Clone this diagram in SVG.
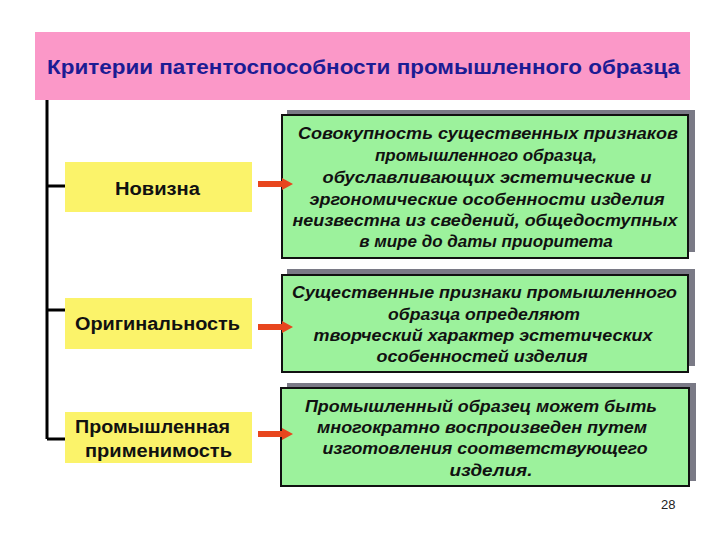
<svg xmlns="http://www.w3.org/2000/svg" width="720" height="540" viewBox="0 0 720 540">
<defs>
<style>
.title{font-family:"Liberation Sans",Arial,sans-serif;font-size:20px;font-weight:bold;fill:#1c1c94;}
.lbl{font-family:"Liberation Sans",Arial,sans-serif;font-size:18px;font-weight:bold;fill:#111;text-anchor:middle;}
.desc{font-family:"Liberation Sans",Arial,sans-serif;font-size:17px;font-weight:bold;font-style:italic;fill:#111;text-anchor:middle;}
.ybox{fill:#fbf36a;}
.gbox{fill:#9cf29c;stroke:#111;stroke-width:2;}
.shadow{fill:#7a7a86;}
.tree{stroke:#000;stroke-width:3;fill:none;}
.arrow{fill:#e8461e;}
.num{font-family:"Liberation Sans",Arial,sans-serif;font-size:13px;fill:#222;}
</style>
</defs>
<rect width="720" height="540" fill="#fff"/>
<g id="title">
<rect x="35" y="32" width="655" height="68" fill="#fb98c8"/>
<text class="title" x="47" y="74" textLength="633" lengthAdjust="spacingAndGlyphs">Критерии патентоспособности  промышленного  образца</text>
</g>
<g id="novizna">
<rect class="ybox" x="65" y="162" width="187" height="50"/>
<text class="lbl" x="157.5" y="195" textLength="85" lengthAdjust="spacingAndGlyphs">Новизна</text>
</g>
<g id="originalnost">
<rect class="ybox" x="65" y="298" width="187" height="51"/>
<text class="lbl" x="157.5" y="330" textLength="165" lengthAdjust="spacingAndGlyphs">Оригинальность</text>
</g>
<g id="primenimost">
<rect class="ybox" x="65" y="412" width="187" height="51"/>
<text class="lbl" x="152.5" y="433" textLength="155" lengthAdjust="spacingAndGlyphs">Промышленная</text>
<text class="lbl" x="158.5" y="457" textLength="147" lengthAdjust="spacingAndGlyphs">применимость</text>
</g>
<g id="desc1">
<rect class="shadow" x="287" y="110" width="408" height="142"/>
<rect class="gbox" x="282" y="115" width="406" height="143"/>
<text class="desc" x="488" y="139" textLength="380" lengthAdjust="spacingAndGlyphs">Совокупность существенных признаков</text>
<text class="desc" x="486" y="161">промышленного образца,</text>
<text class="desc" x="487" y="183" textLength="329" lengthAdjust="spacingAndGlyphs">обуславливающих эстетические и</text>
<text class="desc" x="487" y="205" textLength="355" lengthAdjust="spacingAndGlyphs">эргономические особенности изделия</text>
<text class="desc" x="485" y="226" textLength="385" lengthAdjust="spacingAndGlyphs">неизвестна из сведений, общедоступных</text>
<text class="desc" x="486" y="247">в мире до даты приоритета</text>
</g>
<g id="desc2">
<rect class="shadow" x="287" y="269" width="408" height="97"/>
<rect class="gbox" x="282" y="275" width="406" height="97"/>
<text class="desc" x="484.5" y="298" textLength="385" lengthAdjust="spacingAndGlyphs">Существенные признаки промышленного</text>
<text class="desc" x="484" y="320" textLength="192" lengthAdjust="spacingAndGlyphs">образца определяют</text>
<text class="desc" x="483" y="341" textLength="339" lengthAdjust="spacingAndGlyphs">творческий характер эстетических</text>
<text class="desc" x="482" y="362" textLength="211" lengthAdjust="spacingAndGlyphs">особенностей изделия</text>
</g>
<g id="desc3">
<rect class="shadow" x="287" y="383" width="409" height="98"/>
<rect class="gbox" x="281" y="388" width="408" height="98"/>
<text class="desc" x="481" y="412" textLength="352" lengthAdjust="spacingAndGlyphs">Промышленный образец может быть</text>
<text class="desc" x="482" y="433" textLength="330" lengthAdjust="spacingAndGlyphs">многократно воспроизведен путем</text>
<text class="desc" x="485" y="454" textLength="325" lengthAdjust="spacingAndGlyphs">изготовления соответствующего</text>
<text class="desc" x="491" y="476" textLength="83" lengthAdjust="spacingAndGlyphs">изделия.</text>
</g>
<g id="connectors">
<path class="tree" d="M47,100 V439 M47,186 H65 M47,310 H65 M47,439 H65"/>
<path class="arrow" d="M258,181 H282 V178 L293,184 L282,190 V187 H258 Z"/>
<path class="arrow" d="M258,324 H282 V321 L293,327 L282,333 V330 H258 Z"/>
<path class="arrow" d="M258,431 H282 V428 L293,434 L282,440 V437 H258 Z"/>
</g>
<text class="num" x="661" y="509">28</text>
</svg>
